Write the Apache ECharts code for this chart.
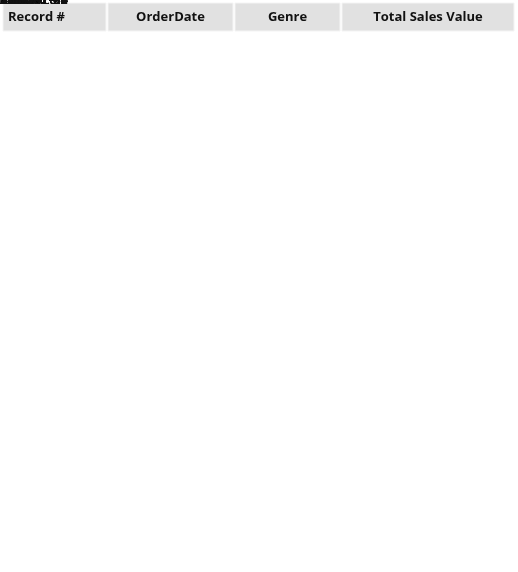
<!DOCTYPE html>
<html><head><meta charset="utf-8">
<script src="https://cdn.jsdelivr.net/npm/echarts@6/dist/echarts.min.js"></script>
<style>html,body{margin:0;padding:0;background:#fff}#main{width:518px;height:572px}</style>
</head><body><div id="main"></div>
<script>
var headers = ['Record #', 'OrderDate', 'Genre', 'Total Sales Value'];
var records = [142,143,144,145,146,147,148,149,150,151,152,153,154,155,156,157,158,159,160,161];
var orderDates = ['2017-12-23','2017-12-24','2017-12-25','2017-12-26','2017-12-27','2017-12-28','2017-12-29','2017-12-30','2017-12-31','2018-01-01',
    '2017-01-02','2017-01-03','2017-01-04','2017-01-05','2017-01-06','2017-01-07','2017-01-08','2017-01-09','2017-01-10','2017-01-11'];
var genres = ['Romance','Romance','Romance','Romance','Romance','Romance','Romance','Romance','Romance','Romance',
    'Sci-fi','Sci-fi','Sci-fi','Sci-fi','Sci-fi','Sci-fi','Sci-fi','Sci-fi','Sci-fi','Sci-fi'];
var salesValues = [64.00,77.00,68.00,211.00,41.00,114.00,182.00,61.00,127.00,68.60,
    193.20,98.00,134.40,145.60,32.20,151.90,52.50,147.70,119.00,131.60];

var chart = echarts.init(document.getElementById('main'));
chart.setOption({animation: false, series: []});
var zr = chart.getZr();

var colX = [3, 108, 235, 342];
var colW = [103, 125, 105, 172];
var fam = 'Open Sans';

function cell(x, y, w, h, fill, stroke) {
    zr.add(new echarts.graphic.Rect({shape:{x:x, y:y, width:w, height:h},
        style:{fill:fill, stroke:stroke, lineWidth:1}}));
}
function label(x, y, str, bold, align) {
    zr.add(new echarts.graphic.Text({x:x, y:y,
        style:{text:str, fontSize:13, fontWeight: bold ? 'bold' : 'normal', fontFamily:fam,
            fill:'#111', align:align, verticalAlign:'middle'}}));
}

// 表头
for (var c = 0; c < headers.length; c++) {
    cell(colX[c], 3, colW[c], 28, '#e1e1e1', '#f4f4f4');
    if (c === 0) label(colX[c] + 5, 17, headers[c], true, 'left');
    else label(colX[c] + colW[c] / 2, 17, headers[c], true, 'center');
}

// 数据行
for (var i = 0; i < records.length; i++) {
    var top = 32 + i * 27;
    var cells = [String(records[i]), orderDates[i], genres[i], salesValues[i].toFixed(2)];
    for (var c = 0; c < 4; c++) {
        cell(colX[c], top, colW[c], 25, c === 0 ? '#e1e1e1' : '#fff', c === 0 ? '#f4f4f4' : '#d9d9d9');
        label(colX[c] + 5, top + 13, cells[c], c === 0, 'left');
    }
}
</script>
</body></html>
